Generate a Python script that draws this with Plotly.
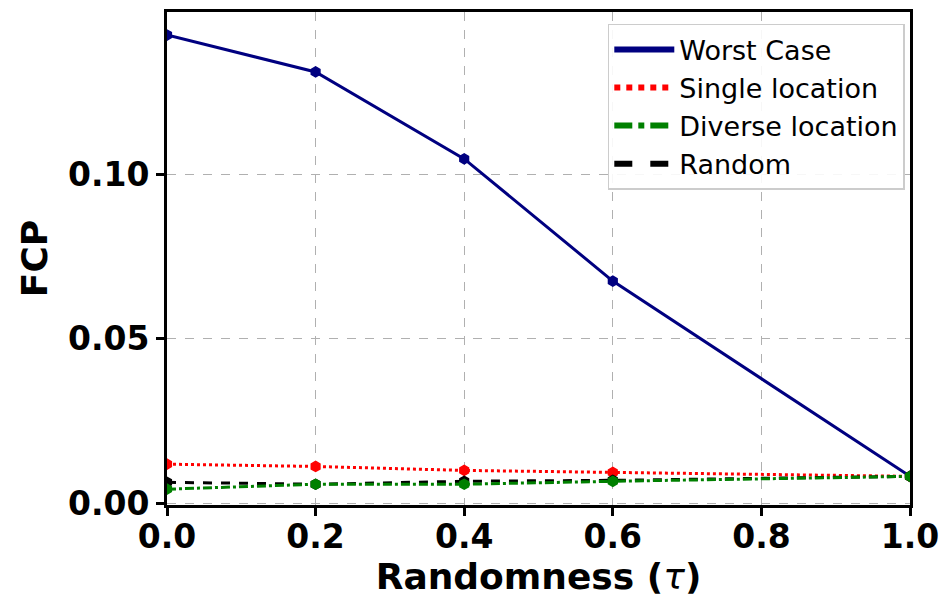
import plotly.graph_objects as go

x = [0.0, 0.2, 0.4, 0.6, 1.0]
worst = [0.1422, 0.1310, 0.1046, 0.0675, 0.0082]
single = [0.0119, 0.0112, 0.0100, 0.0094, 0.0082]
diverse = [0.0043, 0.0058, 0.0058, 0.0067, 0.0082]
random_ = [0.0064, 0.0058, 0.0067, 0.0070, 0.0082]
xticks = [0.0, 0.2, 0.4, 0.6, 0.8, 1.0]
yticks = [0.00, 0.05, 0.10]

fig = go.Figure()
series = [
    ("Worst Case", worst, "#000080", "solid"),
    ("Single location", single, "#ff0000", "dot"),
    ("Random", random_, "#000000", "dash"),
    ("Diverse location", diverse, "#008000", "dashdot"),
]
for name, y, c, dash in series:
    fig.add_trace(go.Scatter(
        x=x, y=y, name=name, mode="lines+markers", showlegend=False,
        line=dict(color=c, dash=dash, width=3),
        marker=dict(symbol="hexagon", size=10, color=c, line=dict(color=c, width=1.5)),
    ))
legend_order = [series[0], series[1], series[3], series[2]]
for name, y, c, dash in legend_order:
    fig.add_trace(go.Scatter(
        x=[None], y=[None], name=name, mode="lines",
        line=dict(color=c, dash=dash, width=6),
    ))

font = "DejaVu Sans, Arial, sans-serif"
fig.update_layout(
    width=941, height=600,
    margin=dict(l=167, r=31, t=12, b=95),
    plot_bgcolor="white", paper_bgcolor="white",
    font=dict(family=font, color="black"),
    legend=dict(
        x=0.993, y=0.976, xanchor="right", yanchor="top",
        bgcolor="rgba(255,255,255,0.9)", bordercolor="#cccccc", borderwidth=1.5,
        font=dict(size=27, family=font), tracegroupgap=0, itemwidth=60,
    ),
)
fig.update_xaxes(
    range=[0, 1], tickvals=xticks, ticktext=[f"{v:.1f}" for v in xticks],
    tickfont=dict(size=33, family="DejaVu Sans", weight="bold"),
    title=dict(text="Randomness (<span style='font-weight:normal'><i>τ</i></span>)",
               font=dict(size=36, family="DejaVu Sans", weight="bold"), standoff=4),
    showline=True, linecolor="black", linewidth=3, mirror=True, automargin=False,
    ticks="outside", ticklen=8, tickwidth=3, tickcolor="black", ticklabelstandoff=-8,
    showgrid=True, gridcolor="#b0b0b0", griddash="dash", gridwidth=1, zeroline=False,
)
fig.update_yaxes(
    range=[-0.0005, 0.1492], tickvals=yticks, ticktext=[f"{v:.2f}" for v in yticks],
    tickfont=dict(size=33, family="DejaVu Sans", weight="bold"),
    title=dict(text="FCP", font=dict(size=36, family="DejaVu Sans", weight="bold"), standoff=10),
    showline=True, linecolor="black", linewidth=3, mirror=True, automargin=False,
    ticks="outside", ticklen=8, tickwidth=3, tickcolor="black",
    showgrid=True, gridcolor="#b0b0b0", griddash="dash", gridwidth=1, zeroline=False,
)
fig.write_html("out.html")
